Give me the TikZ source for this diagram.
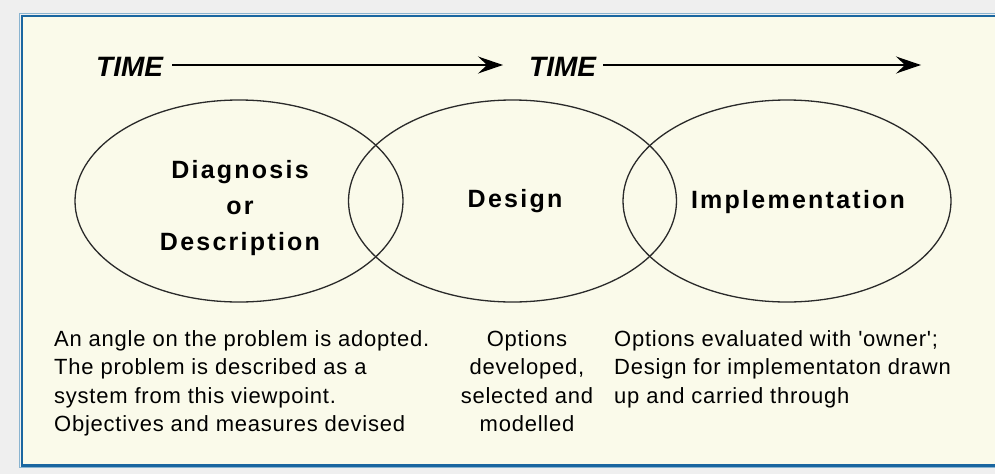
\documentclass[tikz,border=0pt]{standalone}
\usepackage{fontspec}
\setmainfont{Liberation Sans}
\newfontfamily\bodyfont[LetterSpace=3.5]{Liberation Sans}
\newfontfamily\titlefont[LetterSpace=9]{Liberation Sans}
\usetikzlibrary{shapes.geometric,arrows.meta}
\definecolor{pagegray}{HTML}{EFEFEF}
\definecolor{panelcream}{HTML}{FAFAEA}
\definecolor{panelblue}{HTML}{1A66A0}
\definecolor{panelrim}{HTML}{8AB4D0}
\definecolor{ink}{HTML}{2A2A2A}
\tikzset{
  phase/.style={draw=ink, line width=1.3pt, ellipse, minimum width=328pt, minimum height=202pt, inner sep=0pt},
  phasetitle/.style={anchor=base, inner sep=0pt, font=\titlefont\bfseries\fontsize{25}{36}\selectfont},
  timelabel/.style={anchor=base west, inner sep=0pt, font=\bfseries\itshape\fontsize{28}{30}\selectfont},
  timearrow/.style={draw=black, line width=1.5pt, -{Stealth[length=25pt,width=17pt,inset=9pt]}},
  notes/.style={inner sep=0pt, font=\bodyfont\fontsize{22}{28.5}\selectfont}
}
\begin{document}
\begin{tikzpicture}[x=1pt,y=-1pt]
  \useasboundingbox (0,0) rectangle (995,474);
  % page and panel
  \fill[pagegray] (0,0) rectangle (995,474);
  \fill[panelcream] (21,15) rectangle (1000,466);
  \draw[panelrim, line width=1pt] (19.5,13.5) rectangle (1002,467.5);
  \draw[panelblue, line width=2.5pt] (22,16) rectangle (1002,465.5);

  % time arrows
  \node[timelabel] (t1) at (96,76) {TIME};
  \coordinate (t1end) at (503,65);
  \draw[timearrow] (t1.east |- t1end) ++(9,0) coordinate (t1start) -- (t1end);
  \node[timelabel] (t2) at (529,76) {TIME};
  \coordinate (t2end) at (921,65);
  \draw[timearrow] (t2.east |- t2end) ++(7,0) coordinate (t2start) -- (t2end);

  % the three overlapping phases
  \node[phase] (diag) at (239,201) {};
  \node[phase] (design) at (512.5,201) {};
  \node[phase] (impl) at (787,201) {};

  \node[phasetitle] (diag1) at (240,178) {Diagnosis};
  \node[phasetitle] (diag2) at (240,214) {or};
  \node[phasetitle] (diag3) at (240,250) {Description};
  \node[phasetitle] (designt) at (515,207) {Design};
  \node[phasetitle] (implt) at (798,208) {Implementation};

  % notes under each phase (base anchor sits on the last line)
  \node[notes, anchor=base west, align=left] (notesA) at (54,431.5)
    {An angle on the problem is adopted.\\The problem is described as a\\system from this viewpoint.\\Objectives and measures devised};
  \node[notes, anchor=base, align=center] (notesB) at (527,431.5)
    {Options\\developed,\\selected and\\modelled};
  \node[notes, anchor=base west, align=left] (notesC) at (614,403)
    {Options evaluated with 'owner';\\Design for implementaton drawn\\up and carried through};
\end{tikzpicture}
\end{document}
